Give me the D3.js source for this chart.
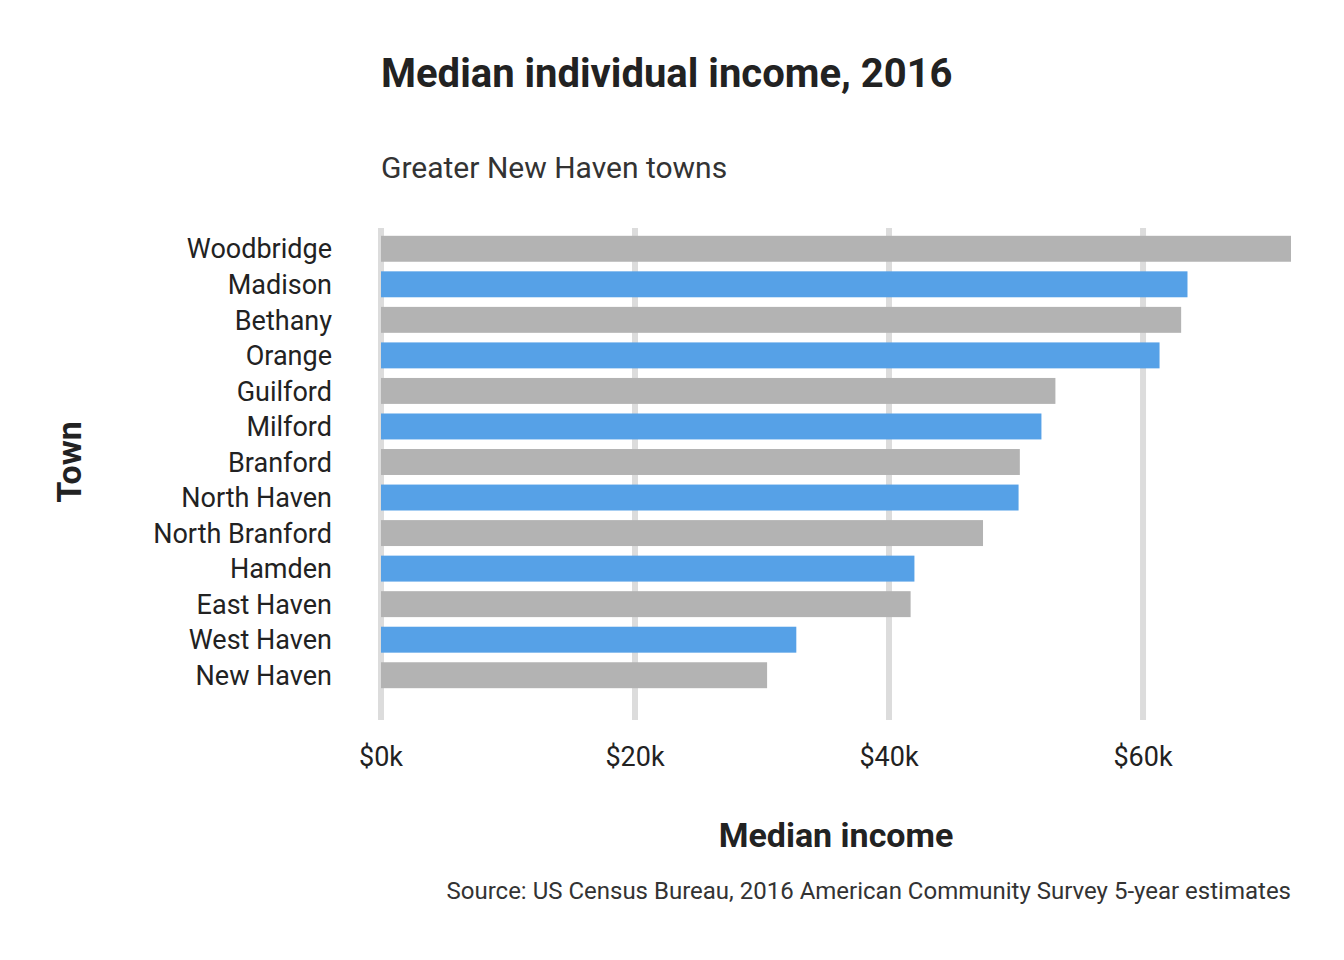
<!DOCTYPE html>
<html>
<head>
<meta charset="utf-8">
<script src="https://cdn.jsdelivr.net/npm/d3@7"></script>
<style>
  body { margin: 0; background: #fff; }
  text { font-family: Roboto, "DejaVu Sans Condensed", sans-serif; fill: #222; }
</style>
</head>
<body>
<div id="chart"></div>
<script>
// data
var towns = ["Woodbridge", "Madison", "Bethany", "Orange", "Guilford", "Milford", "Branford",
  "North Haven", "North Branford", "Hamden", "East Haven", "West Haven", "New Haven"];
var incomes = [71650, 63500, 63000, 61300, 53100, 52000, 50300, 50200, 47400, 42000, 41700, 32700, 30400];
var tickValues = [0, 20000, 40000, 60000];

var svgWidth = 1344, svgHeight = 960;

var svg = d3.select("#chart").append("svg")
  .attr("width", svgWidth)
  .attr("height", svgHeight);

var x = d3.scaleLinear().domain([0, 71650]).range([381, 1291]);
var y = d3.scaleBand().domain(towns).range([231, 693]).paddingInner(0.27).paddingOuter(0.135);

// gridlines
svg.selectAll(".grid")
  .data(tickValues)
  .enter()
  .append("line")
  .attr("x1", d => x(d))
  .attr("x2", d => x(d))
  .attr("y1", 228)
  .attr("y2", 720)
  .attr("stroke", "#dcdcdc")
  .attr("stroke-width", 6);

// bars
svg.selectAll(".bar")
  .data(towns)
  .enter()
  .append("rect")
  .attr("x", x(0))
  .attr("y", d => y(d))
  .attr("width", (d, i) => x(incomes[i]) - x(0))
  .attr("height", y.bandwidth())
  .attr("fill", (d, i) => i % 2 === 1 ? "#56a1e7" : "#b3b3b3");

// y labels
svg.selectAll(".ylab")
  .data(towns)
  .enter()
  .append("text")
  .attr("x", 332)
  .attr("y", d => y(d) + y.bandwidth() / 2)
  .attr("dy", "0.36em")
  .attr("text-anchor", "end")
  .style("font-size", "27px")
  .text(d => d);

// x tick labels
svg.selectAll(".xlab")
  .data(tickValues)
  .enter()
  .append("text")
  .attr("x", d => x(d))
  .attr("y", 766)
  .attr("text-anchor", "middle")
  .style("font-size", "27px")
  .text(d => "$" + (d / 1000) + "k");

svg.append("text")
  .attr("x", 381).attr("y", 87)
  .style("font-size", "40px").style("font-weight", "bold")
  .text("Median individual income, 2016");

svg.append("text")
  .attr("x", 381).attr("y", 178)
  .style("font-size", "30px").style("fill", "#333")
  .text("Greater New Haven towns");

svg.append("text")
  .attr("x", 836).attr("y", 847)
  .attr("text-anchor", "middle")
  .style("font-size", "34px").style("font-weight", "bold")
  .text("Median income");

svg.append("text")
  .attr("transform", "translate(81, 462) rotate(-90)")
  .attr("text-anchor", "middle")
  .style("font-size", "34px").style("font-weight", "bold")
  .text("Town");

svg.append("text")
  .attr("x", 1291).attr("y", 899)
  .attr("text-anchor", "end")
  .style("font-size", "24px").style("fill", "#333")
  .text("Source: US Census Bureau, 2016 American Community Survey 5-year estimates");
</script>
</body>
</html>
